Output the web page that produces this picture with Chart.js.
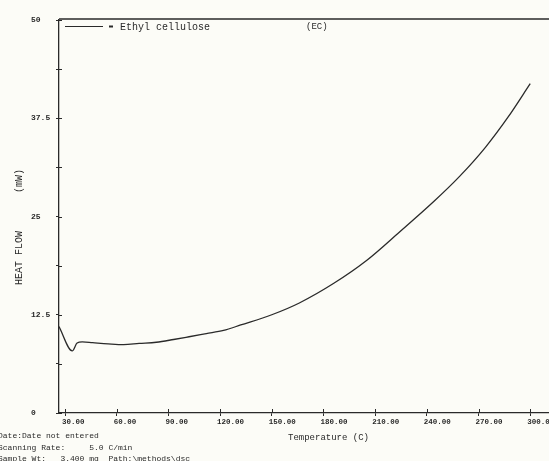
<!DOCTYPE html>
<html><head><meta charset="utf-8">
<script src="https://cdn.jsdelivr.net/npm/chart.js@4/dist/chart.umd.min.js"></script>
<style>html,body{margin:0;padding:0;background:#fcfcf7;overflow:hidden}#wrap{width:549px;height:461px}</style>
</head><body><div id="wrap"><canvas id="c" width="549" height="461"></canvas></div>
<script>
const temperatures = [26.5, 34.2, 37, 40, 46, 55, 64, 73, 83, 93, 102, 112, 122, 132, 150, 166, 186, 205, 224, 244, 259, 274, 287, 300];
const heatFlow     = [11.0, 7.9, 8.9, 9.05, 8.95, 8.8, 8.7, 8.85, 9.0, 9.35, 9.7, 10.1, 10.5, 11.2, 12.5, 14.0, 16.5, 19.4, 23.0, 26.9, 30.1, 33.8, 37.6, 41.9];
const xTickValues = [30, 60, 90, 120, 150, 180, 210, 240, 270, 300];
const yTickValues = [0, 6.25, 12.5, 18.75, 25, 31.25, 37.5, 43.75, 50];
const yTickLabels = {0: '0', 12.5: '12.5', 25: '25', 37.5: '37.5', 50: '50'};
const seriesName = 'Ethyl cellulose';
const sampleTag = '(EC)';
const xTitle = 'Temperature (C)';
const yTitleMain = 'HEAT FLOW';
const yTitleUnit = '(mW)';
const footLines = ['Date:Date not entered', 'Scanning Rate:     5.0 C/min', 'Sample Wt:   3.400 mg  Path:\\methods\\dsc'];

const INK = '#2a2a2a';
const MONO = '"Liberation Mono", "DejaVu Sans Mono", monospace';

const decor = {
  id: 'decor',
  beforeDraw(chart) {
    const ctx = chart.ctx;
    ctx.save();
    ctx.fillStyle = '#fcfcf7';
    ctx.fillRect(0, 0, chart.width, chart.height);
    ctx.restore();
  },
  afterDraw(chart) {
    const ctx = chart.ctx, a = chart.chartArea;
    const xs = chart.scales.x, ys = chart.scales.y;
    ctx.save();
    ctx.strokeStyle = INK;
    ctx.lineWidth = 1.3;
    ctx.beginPath(); ctx.moveTo(a.left, a.top - 1); ctx.lineTo(chart.width, a.top - 1); ctx.stroke();
    ctx.lineWidth = 1;
    yTickValues.forEach(v => { const p = Math.round(ys.getPixelForValue(v)) + 0.5; ctx.beginPath(); ctx.moveTo(a.left, p); ctx.lineTo(a.left + 3, p); ctx.stroke(); });
    xTickValues.forEach(v => { const p = Math.round(xs.getPixelForValue(v)) + 0.5; ctx.beginPath(); ctx.moveTo(p, a.bottom); ctx.lineTo(p, a.bottom - 4); ctx.stroke(); });
    const ds = chart.data.datasets[0];
    ctx.lineWidth = 1.2;
    ctx.beginPath(); ctx.moveTo(65, 26.5); ctx.lineTo(103, 26.5); ctx.stroke();
    ctx.lineWidth = 2;
    ctx.beginPath(); ctx.moveTo(109, 26.5); ctx.lineTo(113, 26.5); ctx.stroke();
    ctx.fillStyle = INK;
    ctx.textBaseline = 'middle';
    ctx.textAlign = 'left';
    ctx.font = '10px ' + MONO;
    ctx.fillText(ds.label, 120, 27);
    ctx.font = '9px ' + MONO;
    ctx.fillText(sampleTag, 306, 27);
    ctx.font = '9px ' + MONO;
    ctx.fillText(xTitle, 288, 438);
    ctx.font = '8px ' + MONO;
    footLines.forEach((t, i) => ctx.fillText(t, -2, 436 + i * 11.5));
    ctx.save();
    ctx.translate(19, 0);
    ctx.rotate(-Math.PI / 2);
    ctx.textAlign = 'center';
    ctx.font = '10px ' + MONO;
    ctx.fillText(yTitleMain, -258, 0);
    ctx.fillText(yTitleUnit, -181, 0);
    ctx.restore();
    ctx.restore();
  }
};

new Chart(document.getElementById('c'), {
  type: 'line',
  data: {
    datasets: [{
      label: seriesName,
      data: temperatures.map((t, i) => ({x: t, y: heatFlow[i]})),
      borderColor: INK,
      borderWidth: 1.3,
      pointRadius: 0,
      fill: false,
      cubicInterpolationMode: 'monotone'
    }]
  },
  options: {
    responsive: false,
    animation: false,
    devicePixelRatio: 1,
    layout: {padding: {left: 31, top: 20, right: 0, bottom: 0}},
    plugins: {legend: {display: false}, tooltip: {enabled: false}},
    scales: {
      x: {
        type: 'linear', min: 26.5, max: 310.9,
        afterBuildTicks: s => { s.ticks = xTickValues.map(v => ({value: v})); },
        afterFit: s => { s.height = 48; s.paddingLeft = 0; s.paddingRight = 0; },
        grid: {drawOnChartArea: false, tickLength: 3, color: INK, tickColor: INK},
        border: {color: INK, width: 1.3},
        ticks: {align: 'start', labelOffset: -3, maxRotation: 0, autoSkip: false, padding: 2, color: INK,
          font: {family: MONO, size: 7.5, weight: 'bold'},
          callback: v => v.toFixed(2)}
      },
      y: {
        type: 'linear', min: 0, max: 50,
        afterBuildTicks: s => { s.ticks = yTickValues.map(v => ({value: v})); },
        afterFit: s => { s.width = 28; s.paddingTop = 0; s.paddingBottom = 0; },
        grid: {drawOnChartArea: false, tickLength: 3, color: INK, tickColor: INK},
        border: {color: INK, width: 1.3},
        ticks: {crossAlign: 'far', autoSkip: false, color: INK,
          font: {family: MONO, size: 8, weight: 'bold'},
          callback: v => (yTickLabels[v] !== undefined ? yTickLabels[v] : '')}
      }
    }
  },
  plugins: [decor]
});
</script>
</body></html>
